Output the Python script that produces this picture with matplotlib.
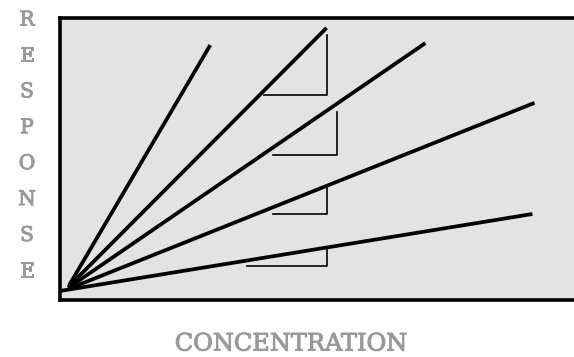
import matplotlib
matplotlib.use("Agg")
import matplotlib.pyplot as plt
import matplotlib.patheffects as pe

# response lines (start and end points, arbitrary units)
line_x0 = [0.18, 0.16, 0.16, 0.16, 0.0]
line_y0 = [0.53, 0.46, 0.43, 0.39, 0.32]
line_x1 = [2.92, 5.18, 7.10, 9.22, 9.18]
line_y1 = [9.04, 9.65, 9.11, 6.99, 3.05]

# slope triangles: horizontal leg at tri_y from tri_xa to tri_xb, vertical leg up to tri_top
tri_y = [7.27, 5.14, 3.05, 1.21]
tri_xa = [3.97, 4.14, 4.14, 3.64]
tri_xb = [5.19, 5.39, 5.19, 5.19]
tri_top = [9.40, 6.67, 3.97, 1.77]

ylabel = "RESPONSE"
xlabel = "CONCENTRATION"
grey = "#999999"
thick = [pe.withStroke(linewidth=0.7, foreground=grey)]

fig = plt.figure(figsize=(5.74, 3.57), dpi=100)
ax = fig.add_axes([60 / 574, 57 / 357, 1 - 60 / 574 + 0.01, 282 / 357])
ax.set_facecolor("#e3e3e3")
ax.set_xlim(0, 10.1)
ax.set_ylim(0, 10)
ax.set_xticks([])
ax.set_yticks([])
for side in ["left", "top", "bottom"]:
    ax.spines[side].set_linewidth(2.6)
    ax.spines[side].set_color("black")
ax.spines["right"].set_visible(False)

for x0, y0, x1, y1 in zip(line_x0, line_y0, line_x1, line_y1):
    ax.plot([x0, x1], [y0, y1], color="black", lw=2.7, solid_capstyle="butt")

for y, xa, xb, top in zip(tri_y, tri_xa, tri_xb, tri_top):
    ax.plot([xa, xb, xb], [y, y, top], color="black", lw=1.2)

# stacked vertical label
for i, ch in enumerate(ylabel):
    fig.text(27 / 574, 1 - (20 + i * 35.9) / 357, ch, color=grey,
             family="DejaVu Serif", fontsize=14.5, path_effects=thick,
             ha="center", va="center")

fig.text(291 / 574, 1 - 344 / 357, xlabel, color=grey,
         family="DejaVu Serif", fontsize=17.3, path_effects=thick,
         ha="center", va="center")

fig.savefig("out.png", dpi=100)
